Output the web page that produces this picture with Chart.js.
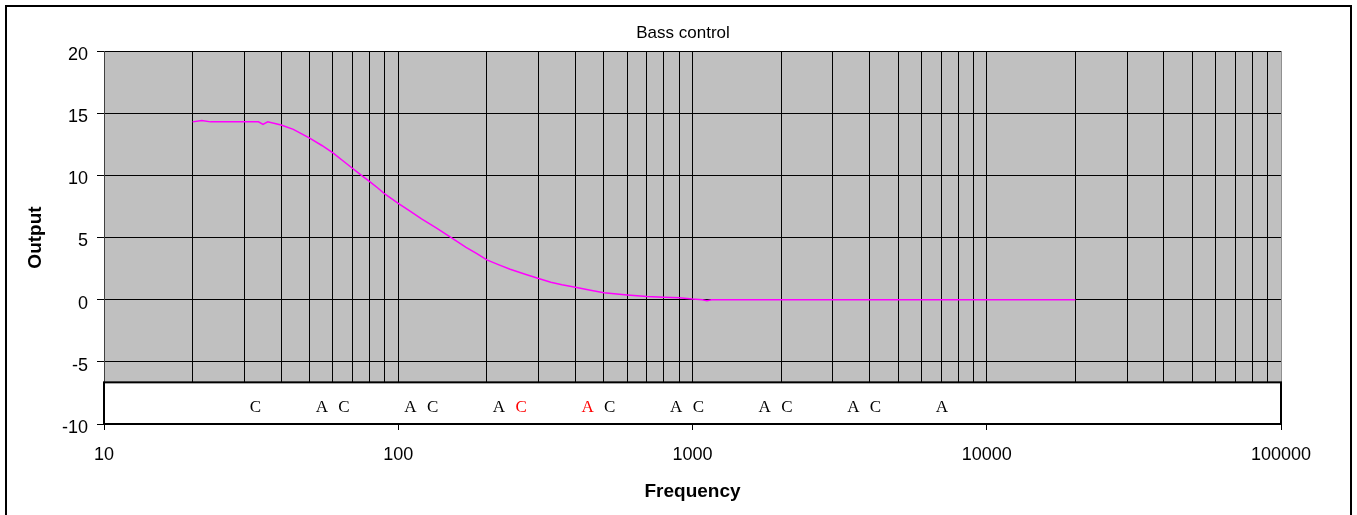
<!DOCTYPE html>
<html>
<head>
<meta charset="utf-8">
<title>Bass control</title>
<script src="https://cdn.jsdelivr.net/npm/chart.js@4.4.1/dist/chart.umd.min.js"></script>
<style>
  body { margin: 0; background: #fff; }
  canvas { display: block; }
</style>
</head>
<body>
<canvas id="bass-chart" width="1357" height="515"></canvas>
<script>
// bass control response
const frequency = [20, 21.5, 23, 26, 30, 33.5, 34.7, 36, 40, 44, 50, 55, 60, 65, 70, 75, 80, 85, 90, 100,
    110, 120, 135, 150, 170, 185, 200, 220, 240, 270, 300, 330, 360, 400, 450, 500, 600, 700, 800, 900,
    1000, 1080, 1120, 1160, 2000, 5000, 10000, 20000];
const output = [14.3, 14.4, 14.3, 14.3, 14.3, 14.3, 14.1, 14.3, 14.05, 13.7, 13.0, 12.4, 11.8, 11.15, 10.55, 10.0, 9.5, 9.0, 8.5, 7.75,
    7.1, 6.5, 5.75, 5.05, 4.2, 3.7, 3.2, 2.8, 2.45, 2.05, 1.7, 1.4, 1.2, 1.0, 0.75, 0.55, 0.38, 0.25, 0.2, 0.15,
    0.05, 0, -0.08, 0, 0, 0, 0, 0];

// note markers in the strip under the curve
const noteNames = ['C', 'A', 'C', 'A', 'C', 'A', 'C', 'A', 'C', 'A', 'C', 'A', 'C', 'A', 'C', 'A'];
const noteFreqs = [32.7, 55, 65.41, 110, 130.81, 220, 261.63, 440, 523.25, 880, 1046.5, 1760, 2093, 3520, 4186, 7040];
const noteColors = ['#000', '#000', '#000', '#000', '#000', '#000', '#f00', '#f00', '#000', '#000', '#000', '#000', '#000', '#000', '#000', '#000'];

// x gridlines and labelled decades
const freqTicks = [10, 20, 30, 40, 50, 60, 70, 80, 90,
    100, 200, 300, 400, 500, 600, 700, 800, 900,
    1000, 2000, 3000, 4000, 5000, 6000, 7000, 8000, 9000,
    10000, 20000, 30000, 40000, 50000, 60000, 70000, 80000, 90000, 100000];
const decadeLabels = [10, 100, 1000, 10000, 100000];

const chartTitle = 'Bass control';
const sans = '"Liberation Sans", Arial, sans-serif';

const backdrop = {
    id: 'backdrop',
    beforeDraw(chart) {
        const { ctx, chartArea: a } = chart;
        ctx.save();
        ctx.fillStyle = '#fff';
        ctx.fillRect(0, 0, chart.width, chart.height);
        ctx.fillStyle = '#c0c0c0';
        ctx.fillRect(a.left, a.top, a.right - a.left, a.bottom - a.top);
        ctx.strokeStyle = '#000';
        ctx.lineWidth = 2;
        ctx.strokeRect(6, 6, 1345, 540);
        ctx.font = '17px ' + sans;
        ctx.fillStyle = '#000';
        ctx.textAlign = 'center';
        ctx.textBaseline = 'middle';
        ctx.fillText(chartTitle, 683, 33);
        ctx.restore();
    },
    beforeDatasetsDraw(chart) {
        const { ctx, scales: { x, y } } = chart;
        const left = x.getPixelForValue(10), right = x.getPixelForValue(100000);
        const top = y.getPixelForValue(-6.65), bottom = y.getPixelForValue(-10);
        ctx.save();
        ctx.fillStyle = '#fff';
        ctx.fillRect(left, top, right - left, bottom - top);
        ctx.strokeStyle = '#000';
        ctx.lineWidth = 2;
        ctx.strokeRect(left, top, right - left, bottom - top);
        ctx.font = '17px "Liberation Serif", "Times New Roman", serif';
        ctx.textAlign = 'center';
        ctx.textBaseline = 'alphabetic';
        noteFreqs.forEach((f, i) => {
            ctx.fillStyle = noteColors[i];
            ctx.fillText(noteNames[i], x.getPixelForValue(f), y.getPixelForValue(-9));
        });
        ctx.restore();
    }
};

const config = {
    type: 'line',
    data: {
        datasets: [{
            label: chartTitle,
            data: frequency.map((f, i) => ({ x: f, y: output[i] })),
            borderColor: '#ff00ff',
            borderWidth: 1.5,
            pointRadius: 0,
            tension: 0,
            fill: false
        }]
    },
    options: {
        responsive: false,
        animation: false,
        devicePixelRatio: 1,
        layout: { padding: { left: 0, top: 51, right: 76, bottom: 0 } },
        plugins: {
            legend: { display: false },
            tooltip: { enabled: false }
        },
        scales: {
            x: {
                type: 'logarithmic',
                min: 10,
                max: 100000,
                afterBuildTicks: (s) => { s.ticks = freqTicks.map(v => ({ value: v })); },
                afterFit: (s) => { s.height = 91; },
                ticks: {
                    autoSkip: false,
                    maxRotation: 0,
                    padding: 14,
                    color: '#000',
                    font: { family: sans, size: 18 },
                    callback: (v) => decadeLabels.includes(v) ? String(v) : ''
                },
                grid: {
                    color: (c) => (c.tick && c.tick.value === 100000) ? '#909090' : '#000',
                    lineWidth: 1,
                    tickLength: 6,
                    tickColor: (c) => (c.tick && decadeLabels.includes(c.tick.value)) ? '#000' : 'rgba(0,0,0,0)'
                },
                border: { color: '#404040' },
                title: {
                    display: true,
                    text: 'Frequency',
                    color: '#000',
                    font: { family: sans, size: 19, weight: 'bold' },
                    padding: { top: 0, bottom: 12 }
                }
            },
            y: {
                min: -10,
                max: 20,
                afterFit: (s) => { s.width = 104; },
                ticks: {
                    stepSize: 5,
                    padding: 9,
                    labelOffset: 4,
                    color: '#000',
                    font: { family: sans, size: 18 }
                },
                grid: {
                    color: '#000',
                    lineWidth: 1,
                    tickLength: 7,
                    tickColor: '#000'
                },
                border: { color: '#404040' },
                title: {
                    display: true,
                    text: 'Output',
                    color: '#000',
                    font: { family: sans, size: 19, weight: 'bold' },
                    padding: { top: 24, bottom: 0 }
                }
            }
        }
    },
    plugins: [backdrop]
};

const ctx = document.getElementById('bass-chart').getContext('2d');
const bassChart = new Chart(ctx, config);
</script>
</body>
</html>
